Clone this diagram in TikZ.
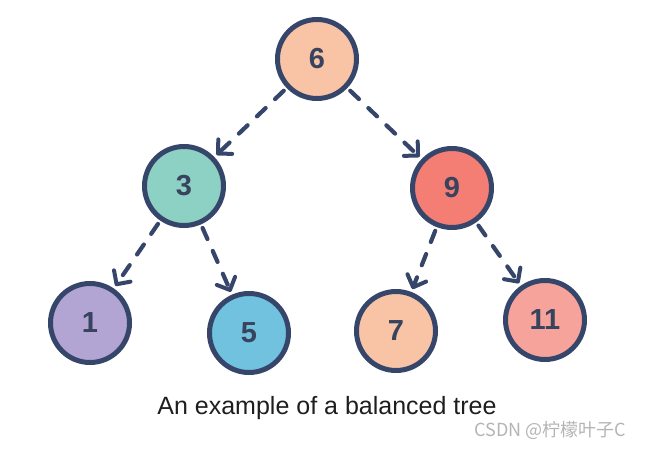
\documentclass[tikz,border=0pt]{standalone}
\usepackage{fontspec}
\setmainfont{Liberation Sans}
\newfontfamily\cjkfont{Noto Sans CJK SC}
\usetikzlibrary{arrows.meta}

\definecolor{ink}{HTML}{36466A}
\definecolor{digit}{HTML}{38435E}
\definecolor{peach}{HTML}{F9C4A6}
\definecolor{teal}{HTML}{8DD0C4}
\definecolor{salmon}{HTML}{F47E74}
\definecolor{lavender}{HTML}{B2A5D3}
\definecolor{skyblue}{HTML}{70C2DF}
\definecolor{rose}{HTML}{F6A49B}
\definecolor{caption}{HTML}{1E1E1E}
\definecolor{mark}{HTML}{B4B4B4}

\tikzset{
  treenode/.style={circle, draw=ink, line width=5pt, minimum size=79pt,
    inner sep=0pt, font=\fontsize{29}{30}\selectfont\bfseries, text=digit},
  link/.style={draw=ink, line width=4.2pt, line cap=round,
    dash pattern=on 12pt off 13pt,
    shorten <=4pt, shorten >=3pt,
    -{Straight Barb[length=10pt, width=20pt, line width=4pt, round]}},
}

\begin{document}
\begin{tikzpicture}[x=1pt, y=-1pt]
  \useasboundingbox (0,0) rectangle (645,449);

  % tree nodes
  \node[treenode, fill=peach]    (n6)  at (317, 59)  {6};
  \node[treenode, fill=teal]     (n3)  at (184, 186) {3};
  \node[treenode, fill=salmon]   (n9)  at (452, 188) {9};
  \node[treenode, fill=lavender] (n1)  at (90, 323)  {1};
  \node[treenode, fill=skyblue]  (n5)  at (249, 333) {5};
  \node[treenode, fill=peach]    (n7)  at (396, 331) {7};
  \node[treenode, fill=rose]     (n11) at (545, 320) {11};

  % parent-to-child links
  \draw[link] (n6) -- (n3);
  \draw[link] (n6) -- (n9);
  \draw[link] (n3) -- (n1);
  \draw[link] (n3) -- (n5);
  \draw[link] (n9) -- (n7);
  \draw[link] (n9) -- (n11);

  % caption and watermark
  \node[font=\fontsize{25}{28}\selectfont, text=caption] (cap) at (327, 408) {An example of a balanced tree};
  \node[font=\cjkfont\fontsize{18}{20}\selectfont, text=mark, anchor=east] (wm) at (630, 430) {CSDN @柠檬叶子C};
\end{tikzpicture}
\end{document}
